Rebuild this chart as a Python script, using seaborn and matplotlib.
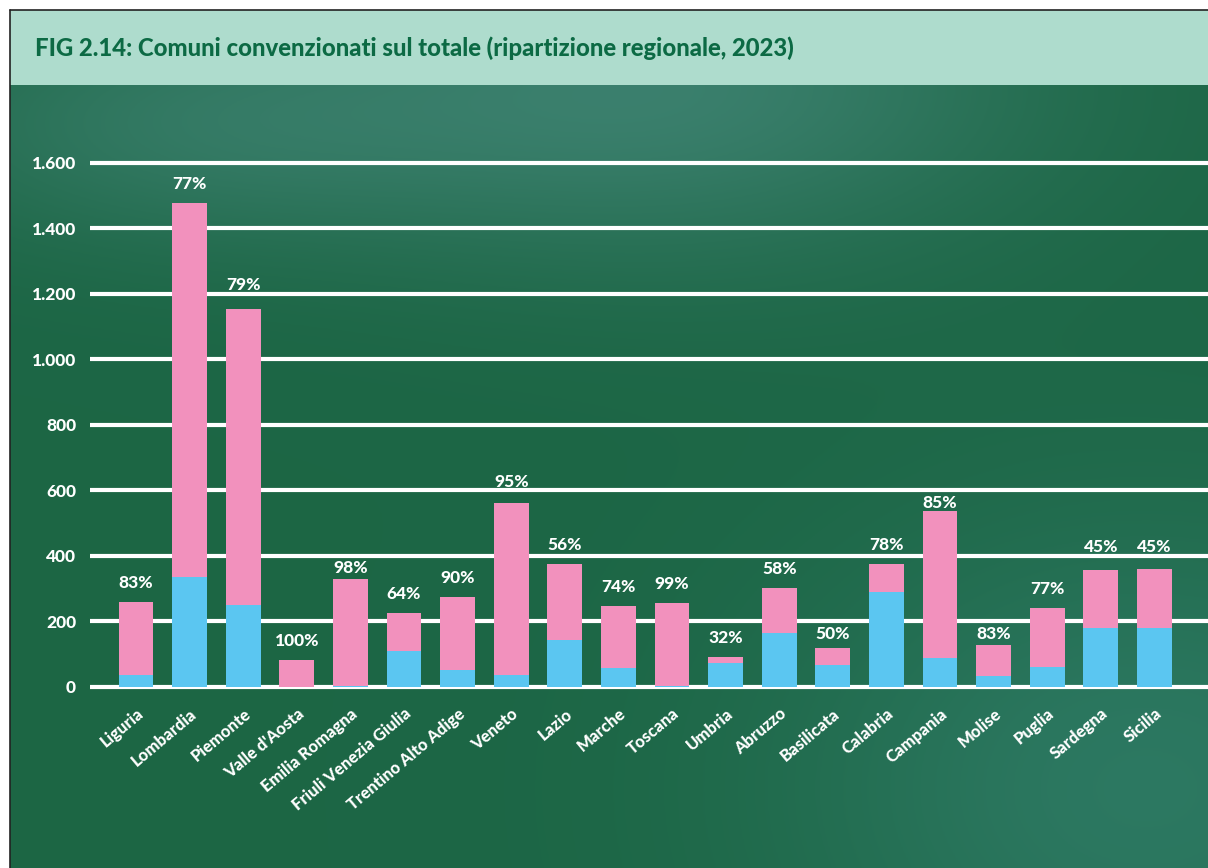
import numpy as np
import matplotlib
matplotlib.use("Agg")
import matplotlib.pyplot as plt
from matplotlib.patches import Rectangle
from matplotlib.lines import Line2D
import seaborn as sns

# Regional data (2023)
regioni = ["Liguria", "Lombardia", "Piemonte", "Valle d'Aosta", "Emilia Romagna",
           "Friuli Venezia Giulia", "Trentino Alto Adige", "Veneto", "Lazio", "Marche",
           "Toscana", "Umbria", "Abruzzo", "Basilicata", "Calabria", "Campania",
           "Molise", "Puglia", "Sardegna", "Sicilia"]
comuni_totali = [260, 1478, 1154, 82, 330, 226, 275, 562, 376, 247,
                 256, 92, 302, 119, 376, 537, 128, 241, 357, 360]
comuni_base = [36, 336, 250, 0, 4, 110, 52, 37, 143, 58,
               3, 73, 165, 67, 290, 89, 34, 61, 180, 180]
etichette_pct = ["83%", "77%", "79%", "100%", "98%", "64%", "90%", "95%", "56%", "74%",
                 "99%", "32%", "58%", "50%", "78%", "85%", "83%", "77%", "45%", "45%"]
y_ticks = [0, 200, 400, 600, 800, 1000, 1200, 1400, 1600]
y_tick_labels = ["0", "200", "400", "600", "800", "1.000", "1.200", "1.400", "1.600"]

titolo = "FIG 2.14: Comuni convenzionati sul totale (ripartizione regionale, 2023)"

ROSA = "#f291bd"
AZZURRO = "#5bc6f1"
HEADER = "#aedccd"
TITOLO = "#0c6a44"

sns.set_theme(style="white")
plt.rcParams["font.family"] = ["Lato", "DejaVu Sans"]
W8 = "black"

W, H = 1208, 868
fig = plt.figure(figsize=(W / 100, H / 100), dpi=100)
fig.patch.set_facecolor("white")

# Chalkboard background
bg = fig.add_axes([10 / W, 0, 1 - 10 / W, (H - 85) / H])
bg.set_axis_off()
ny, nx = 300, 460
yy, xx = np.mgrid[0:1:ny * 1j, 0:1:nx * 1j]
base = np.array([0.11, 0.40, 0.27])
light = np.array([0.30, 0.56, 0.52])
teal = np.array([0.19, 0.49, 0.41])
w1 = np.exp(-(((xx - 0.55) / 0.30) ** 2 + ((yy - 0.0) / 0.22) ** 2))
w2 = np.exp(-(((xx - 0.95) / 0.30) ** 2 + ((yy - 0.9) / 0.35) ** 2))
w3 = np.exp(-(((xx - 0.15) / 0.25) ** 2 + ((yy - 0.05) / 0.15) ** 2)) * 0.4
img = base[None, None, :] * np.ones((ny, nx, 1))
img = img + (light - base)[None, None, :] * (w1 * 0.6 + w3)[..., None]
img = img + (teal - base)[None, None, :] * (w2 * 0.8)[..., None]
bg.imshow(np.clip(img, 0, 1), aspect="auto", extent=[0, 1, 0, 1], origin="upper")
bg.set_xlim(0, 1)
bg.set_ylim(0, 1)

# Header band with title
fig.patches.append(Rectangle((10 / W, (H - 85) / H), 1 - 10 / W, 75 / H,
                             transform=fig.transFigure, facecolor=HEADER,
                             edgecolor="none", zorder=2))
fig.lines.append(Line2D([10 / W, 1], [(H - 10) / H, (H - 10) / H],
                        transform=fig.transFigure, color="#222222", lw=1.2, zorder=3))
fig.lines.append(Line2D([10 / W, 10 / W], [0, (H - 10) / H],
                        transform=fig.transFigure, color="#222222", lw=1.2, zorder=3))
fig.text(35 / W, (H - 48) / H, titolo, color=TITOLO, fontsize=17.2,
         fontweight=W8, va="center", ha="left", zorder=4)

# Main chart
ax_h_px = 600
ax = fig.add_axes([90 / W, (H - 700) / H, (W - 90) / W, ax_h_px / H])
ax.patch.set_alpha(0)
ylim = (-39.7, 1792)

for v in y_ticks:
    ax.axhline(v, color="white", lw=3, zorder=1)

sns.barplot(x=regioni, y=comuni_totali, color=ROSA, saturation=1, width=0.65,
            linewidth=0, ax=ax, zorder=3)
sns.barplot(x=regioni, y=comuni_base, color=AZZURRO, saturation=1, width=0.65,
            linewidth=0, ax=ax, zorder=4)

# Percentage labels above each bar, nudged so they never sit on a chalk line
pt_per_unit = ax_h_px / (ylim[1] - ylim[0]) * 0.72
lab_size = 12.5
descent = 0.2 * lab_size
cap = 0.72 * lab_size
for i, (tot, lab) in enumerate(zip(comuni_totali, etichette_pct)):
    off = 8.0
    above = [g for g in y_ticks if g > tot]
    if above:
        d = (min(above) - tot) * pt_per_unit
        lo, hi = off + descent, off + descent + cap
        if lo - 3 <= d <= hi + 3:
            off_below = d - 3 - cap - descent
            off = off_below if off_below >= 0 else d + 3 - descent
    ax.annotate(lab, (i, tot), xytext=(0, off), textcoords="offset points",
                ha="center", va="bottom", color="white", fontsize=lab_size,
                fontweight=W8, zorder=5)

ax.set_xlim(-0.858, 20.0)
ax.set_ylim(*ylim)
ax.set_yticks(y_ticks)
ax.set_yticklabels(y_tick_labels)
ax.set_xticks(range(len(regioni)))
ax.set_xticklabels(regioni, rotation=40, ha="right", rotation_mode="anchor")
ax.tick_params(axis="both", length=0, colors="white", labelsize=12)
ax.tick_params(axis="y", pad=10, labelsize=12.5)
ax.tick_params(axis="x", pad=4)
for t in ax.get_xticklabels() + ax.get_yticklabels():
    t.set_fontweight(W8)
    t.set_color("white")
for s in ax.spines.values():
    s.set_visible(False)
ax.set_xlabel("")
ax.set_ylabel("")

fig.savefig("out.png", dpi=100)
